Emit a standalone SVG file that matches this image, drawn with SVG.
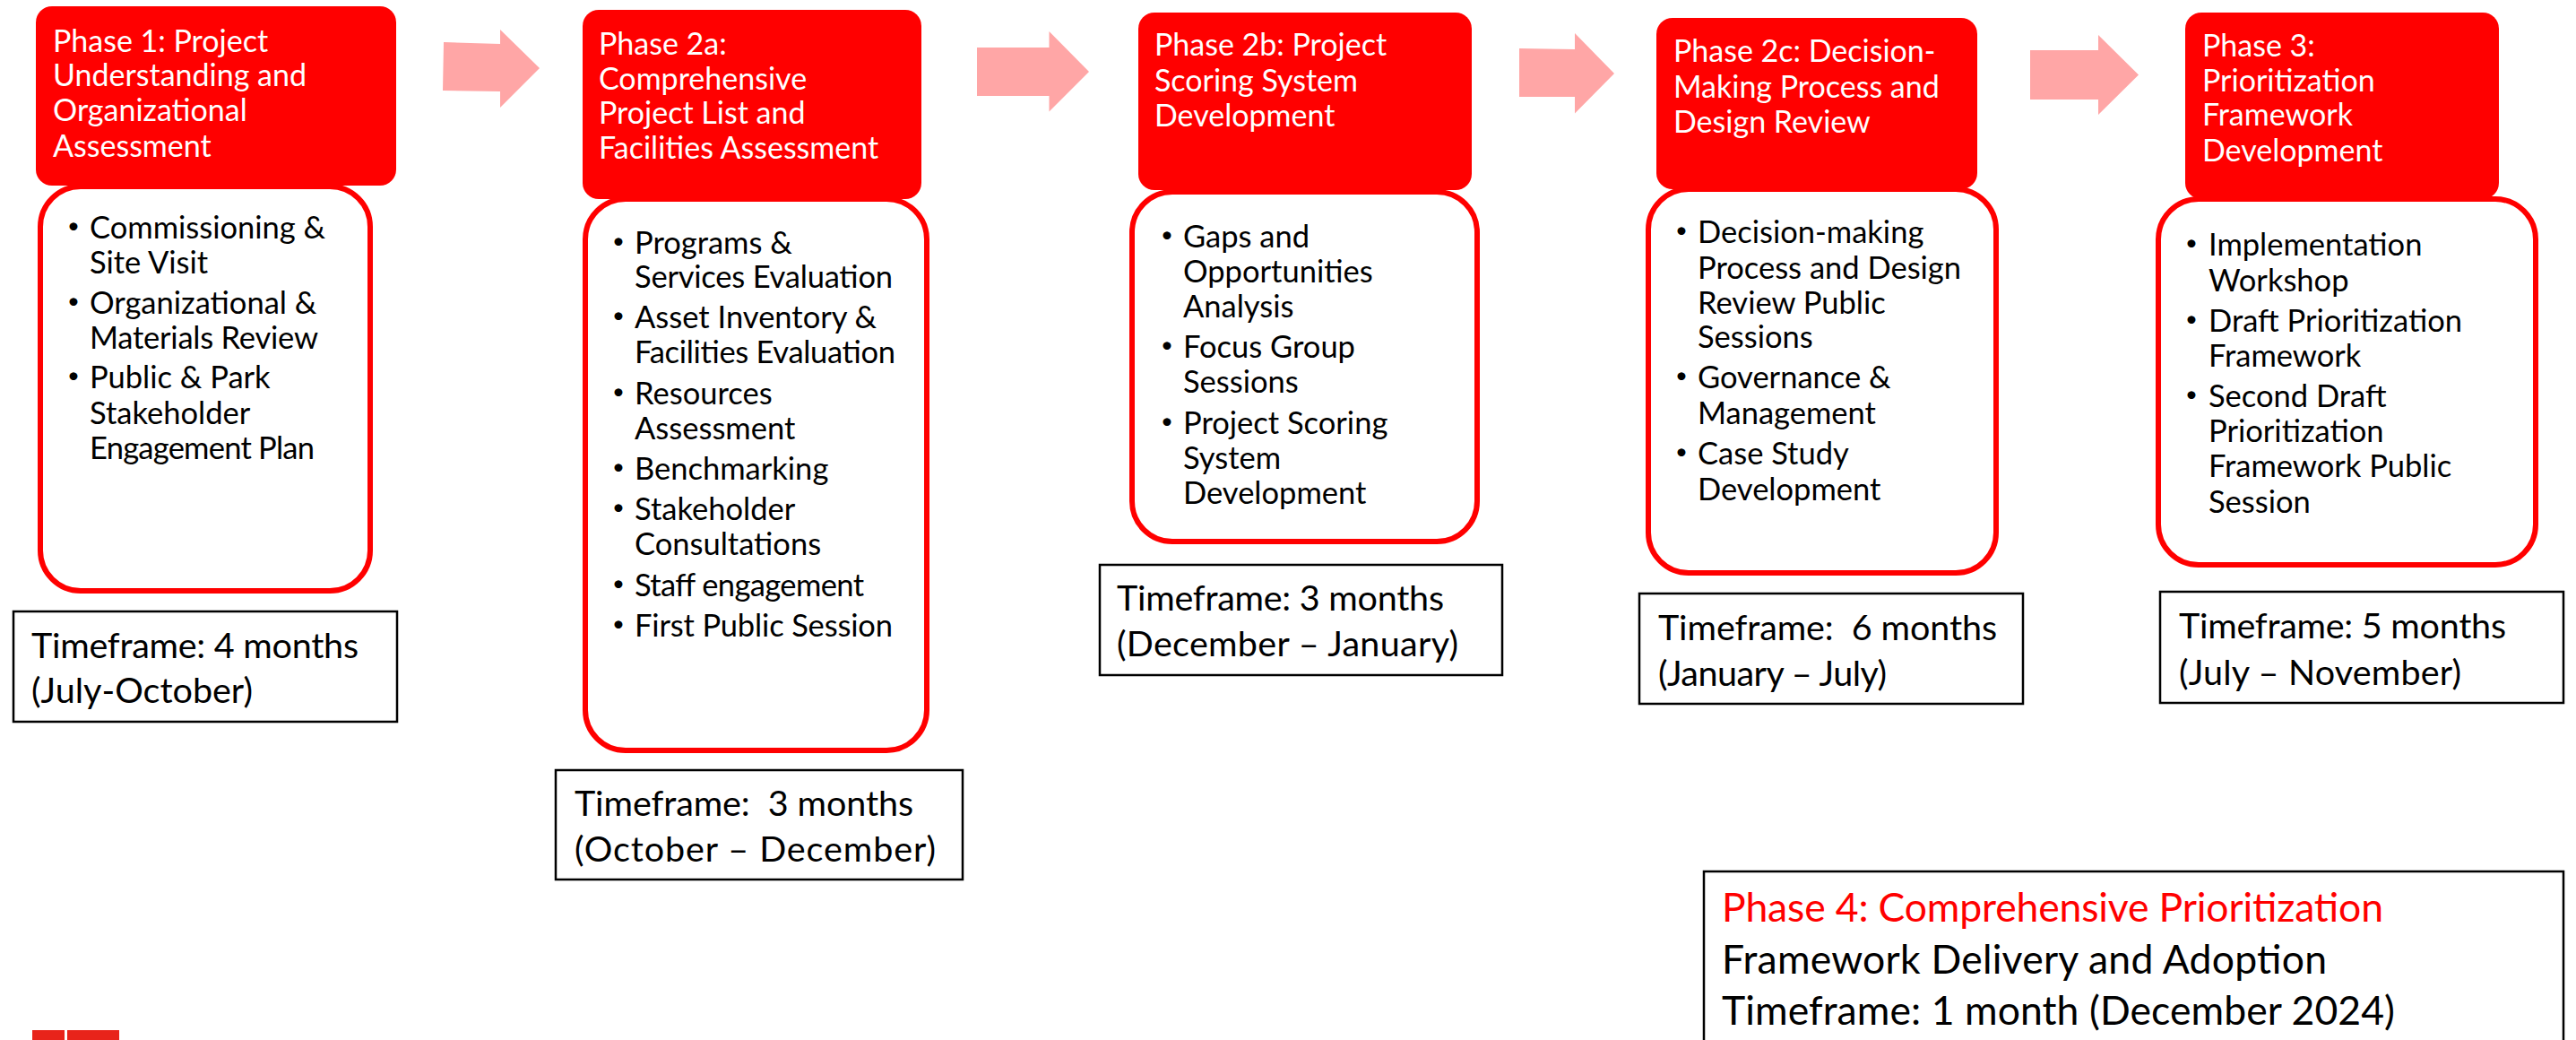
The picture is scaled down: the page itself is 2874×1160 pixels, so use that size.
<svg xmlns="http://www.w3.org/2000/svg" width="2874" height="1160" viewBox="0 0 2874 1160">
<style>
text{font-family:"Lato","Open Sans","Liberation Sans",sans-serif}
.h{fill:#f00}
.hb{fill:#fff;stroke:#f00;stroke-width:6}
.tf{fill:#fff;stroke:#000;stroke-width:2.5}
.ht{fill:#fff;font-size:34px}
.bt{fill:#000;font-size:34.500px}
.bu{fill:#000;font-size:24px}
.tt{fill:#000;font-size:39.500px}
.pt{fill:#000;font-size:44.500px}
.ar{fill:#ffa6a6}
</style>
<rect width="2874" height="1160" fill="#fff"/>
<g id="connectors">
<polygon class="ar" points="495,47 558,49 558,33 602,76 558,120 558,102 494,101"/>
<polygon class="ar" points="1090,53 1170.500,53 1170.500,35 1215,80 1170.500,124.500 1170.500,107 1090,107"/>
<polygon class="ar" points="1695,54 1757,55 1757,37 1801,82 1757,126.500 1757,108 1695,108"/>
<polygon class="ar" points="2265,56 2341,56 2341,39 2386,83.500 2341,128 2341,111 2265,111"/>
</g>
<g id="phase1">
<rect class="h" x="40" y="7" width="402" height="200" rx="18"/>
<text class="ht" x="59" y="58">Phase 1: Project</text>
<text class="ht" x="59" y="96">Understanding and</text>
<text class="ht" x="59" y="135">Organizational</text>
<text class="ht" x="59" y="175">Assessment</text>
<rect class="hb" x="45" y="208" width="368" height="451" rx="45"/>
<text class="bu" x="75" y="260">•</text><text class="bt" x="100" y="266">Commissioning &amp;</text>
<text class="bt" x="100" y="305">Site Visit</text>
<text class="bu" x="75" y="344">•</text><text class="bt" x="100" y="350">Organizational &amp;</text>
<text class="bt" x="100" y="389" textLength="255">Materials Review</text>
<text class="bu" x="75" y="427">•</text><text class="bt" x="100" y="433">Public &amp; Park</text>
<text class="bt" x="100" y="473">Stakeholder</text>
<text class="bt" x="100" y="512" textLength="251">Engagement Plan</text>
<rect class="tf" x="15" y="682" width="428" height="123"/>
<text class="tt" x="35" y="734" textLength="365">Timeframe: 4 months</text>
<text class="tt" x="35" y="784" textLength="247">(July-October)</text>
</g>
<g id="phase2a">
<rect class="h" x="650" y="11" width="378" height="211" rx="18"/>
<text class="ht" x="668" y="61">Phase 2a:</text>
<text class="ht" x="668" y="100">Comprehensive</text>
<text class="ht" x="668" y="138">Project List and</text>
<text class="ht" x="668" y="177">Facilities Assessment</text>
<rect class="hb" x="653" y="222" width="381" height="615" rx="45"/>
<text class="bu" x="683" y="277">•</text><text class="bt" x="708" y="283">Programs &amp;</text>
<text class="bt" x="708" y="321" textLength="288">Services Evaluation</text>
<text class="bu" x="683" y="360">•</text><text class="bt" x="708" y="366">Asset Inventory &amp;</text>
<text class="bt" x="708" y="405" textLength="291">Facilities Evaluation</text>
<text class="bu" x="683" y="445">•</text><text class="bt" x="708" y="451">Resources</text>
<text class="bt" x="708" y="490">Assessment</text>
<text class="bu" x="683" y="529">•</text><text class="bt" x="708" y="535">Benchmarking</text>
<text class="bu" x="683" y="574">•</text><text class="bt" x="708" y="580">Stakeholder</text>
<text class="bt" x="708" y="619">Consultations</text>
<text class="bu" x="683" y="659">•</text><text class="bt" x="708" y="665" textLength="256">Staff engagement</text>
<text class="bu" x="683" y="704">•</text><text class="bt" x="708" y="710" textLength="288">First Public Session</text>
<rect class="tf" x="620" y="859" width="454" height="122"/>
<text class="tt" x="641" y="910" xml:space="preserve" textLength="378">Timeframe:  3 months</text>
<text class="tt" x="641" y="961" textLength="403">(October – December)</text>
</g>
<g id="phase2b">
<rect class="h" x="1270" y="14" width="372" height="198" rx="18"/>
<text class="ht" x="1288" y="62">Phase 2b: Project</text>
<text class="ht" x="1288" y="102">Scoring System</text>
<text class="ht" x="1288" y="141">Development</text>
<rect class="hb" x="1263" y="214" width="385" height="390" rx="45"/>
<text class="bu" x="1295" y="270">•</text><text class="bt" x="1320" y="276">Gaps and</text>
<text class="bt" x="1320" y="315">Opportunities</text>
<text class="bt" x="1320" y="354">Analysis</text>
<text class="bu" x="1295" y="393">•</text><text class="bt" x="1320" y="399">Focus Group</text>
<text class="bt" x="1320" y="438">Sessions</text>
<text class="bu" x="1295" y="478">•</text><text class="bt" x="1320" y="484">Project Scoring</text>
<text class="bt" x="1320" y="523">System</text>
<text class="bt" x="1320" y="562">Development</text>
<rect class="tf" x="1227" y="630" width="449" height="123"/>
<text class="tt" x="1246" y="681" textLength="365">Timeframe: 3 months</text>
<text class="tt" x="1246" y="732" textLength="381">(December – January)</text>
</g>
<g id="phase2c">
<rect class="h" x="1848" y="20" width="358" height="191" rx="18"/>
<text class="ht" x="1867" y="69">Phase 2c: Decision-</text>
<text class="ht" x="1867" y="109">Making Process and</text>
<text class="ht" x="1867" y="148">Design Review</text>
<rect class="hb" x="1839" y="211" width="388" height="428" rx="45"/>
<text class="bu" x="1869" y="265">•</text><text class="bt" x="1894" y="271">Decision-making</text>
<text class="bt" x="1894" y="311">Process and Design</text>
<text class="bt" x="1894" y="350">Review Public</text>
<text class="bt" x="1894" y="388">Sessions</text>
<text class="bu" x="1869" y="427">•</text><text class="bt" x="1894" y="433">Governance &amp;</text>
<text class="bt" x="1894" y="473">Management</text>
<text class="bu" x="1869" y="512">•</text><text class="bt" x="1894" y="518">Case Study</text>
<text class="bt" x="1894" y="558">Development</text>
<rect class="tf" x="1829" y="662" width="428" height="123"/>
<text class="tt" x="1850" y="714" xml:space="preserve" textLength="378">Timeframe:  6 months</text>
<text class="tt" x="1850" y="765" textLength="255">(January – July)</text>
</g>
<g id="phase3">
<rect class="h" x="2438" y="14" width="350" height="208" rx="18"/>
<text class="ht" x="2457" y="63">Phase 3:</text>
<text class="ht" x="2457" y="102">Prioritization</text>
<text class="ht" x="2457" y="140">Framework</text>
<text class="ht" x="2457" y="180">Development</text>
<rect class="hb" x="2408" y="222" width="421" height="408" rx="45"/>
<text class="bu" x="2438" y="279">•</text><text class="bt" x="2464" y="285">Implementation</text>
<text class="bt" x="2464" y="325">Workshop</text>
<text class="bu" x="2438" y="364">•</text><text class="bt" x="2464" y="370">Draft Prioritization</text>
<text class="bt" x="2464" y="409">Framework</text>
<text class="bu" x="2438" y="448">•</text><text class="bt" x="2464" y="454">Second Draft</text>
<text class="bt" x="2464" y="493">Prioritization</text>
<text class="bt" x="2464" y="532">Framework Public</text>
<text class="bt" x="2464" y="572">Session</text>
<rect class="tf" x="2410" y="660" width="450" height="124"/>
<text class="tt" x="2431" y="712" textLength="365">Timeframe: 5 months</text>
<text class="tt" x="2431" y="764" textLength="315">(July – November)</text>
</g>
<g id="phase4">
<rect class="tf" x="1901" y="972" width="959" height="200"/>
<text class="pt" x="1921" y="1028" style="fill:#f00" textLength="738">Phase 4: Comprehensive Prioritization</text>
<text class="pt" x="1921" y="1086" textLength="675">Framework Delivery and Adoption</text>
<text class="pt" x="1921" y="1143" textLength="751">Timeframe: 1 month (December 2024)</text>
</g>
<g id="logo">
<rect x="36" y="1149" width="36" height="11" fill="#e8231a"/>
<rect x="75" y="1149" width="58" height="11" fill="#e8231a"/>
</g>
</svg>
